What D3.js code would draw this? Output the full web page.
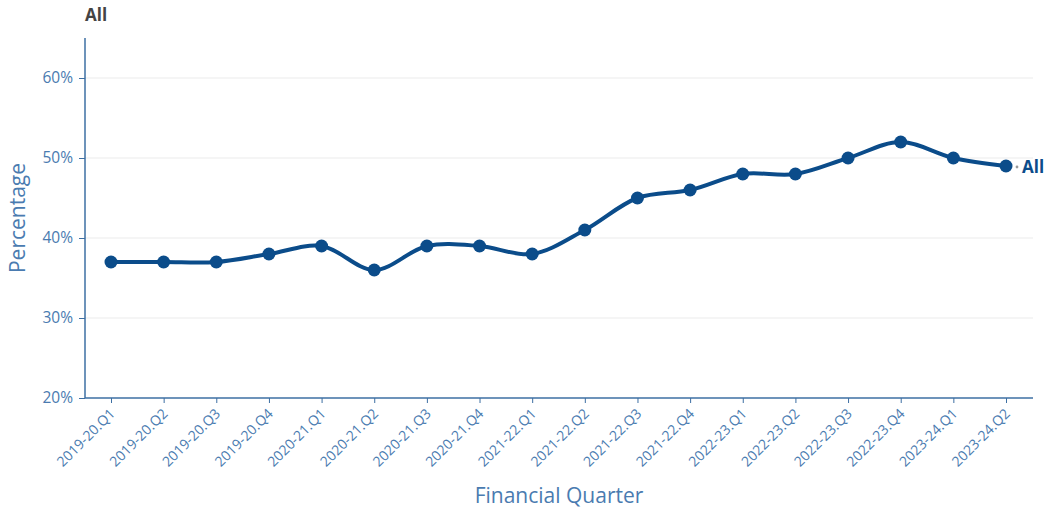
<!DOCTYPE html>
<html>
<head>
<meta charset="utf-8">
<script src="https://cdn.jsdelivr.net/npm/d3@7"></script>
<style>
  body { margin: 0; background: #fff; font-family: "Open Sans", sans-serif; }
</style>
</head>
<body>
<svg id="chart" width="1047" height="511"></svg>
<script>
/** Categories along the x axis */
var quarters = ['2019-20.Q1', '2019-20.Q2', '2019-20.Q3', '2019-20.Q4',
    '2020-21.Q1', '2020-21.Q2', '2020-21.Q3', '2020-21.Q4',
    '2021-22.Q1', '2021-22.Q2', '2021-22.Q3', '2021-22.Q4',
    '2022-23.Q1', '2022-23.Q2', '2022-23.Q3', '2022-23.Q4',
    '2023-24.Q1', '2023-24.Q2'];

/** Percentage values for the "All" series */
var allValues = [37, 37, 37, 38, 39, 36, 39, 39, 38, 41, 45, 46, 48, 48, 50, 52, 50, 49];

/** Y ticks */
var yTicks = [20, 30, 40, 50, 60];

var seriesName = 'All';

var margin = {left: 85, right: 14, top: 38, bottom: 113},
    width = 1047 - margin.left - margin.right,
    height = 511 - margin.top - margin.bottom;

var lineColor = '#0b4c8a',
    axisColor = '#3d6fa3',
    tickTextColor = '#4a7bb0';

var svg = d3.select('#chart');
var g = svg.append('g')
    .attr('transform', 'translate(' + margin.left + ',' + margin.top + ')');

// Scales
var xScale = d3.scalePoint()
    .domain(quarters)
    .range([26, width - 27]);

var yScale = d3.scaleLinear()
    .domain([20, 65])
    .range([height, 0]);

// Grid lines
g.append('g')
    .selectAll('line')
    .data(yTicks.slice(1))
    .enter()
    .append('line')
    .attr('x1', 0)
    .attr('x2', width)
    .attr('y1', function(d) { return yScale(d); })
    .attr('y2', function(d) { return yScale(d); })
    .attr('stroke', '#ebebeb')
    .attr('stroke-width', 1);

// Y axis
var yAxis = g.append('g')
    .call(d3.axisLeft(yScale)
        .tickValues(yTicks)
        .tickSize(6)
        .tickPadding(6)
        .tickFormat(function(d) { return d + '%'; }));
yAxis.select('.domain').attr('stroke', axisColor).attr('stroke-width', 1.5)
    .attr('d', 'M0,0V' + height);
yAxis.selectAll('.tick line').attr('stroke', axisColor);
yAxis.selectAll('.tick text')
    .attr('fill', tickTextColor)
    .style('font-family', '"Open Sans", sans-serif')
    .style('font-size', '15.5px');

// X axis
var xAxis = g.append('g')
    .attr('transform', 'translate(0,' + height + ')')
    .call(d3.axisBottom(xScale).tickSize(5).tickPadding(4));
xAxis.select('.domain').attr('stroke', axisColor).attr('stroke-width', 1.5)
    .attr('d', 'M0,0H' + width);
xAxis.selectAll('.tick line').attr('stroke', axisColor);
xAxis.selectAll('.tick text')
    .attr('fill', tickTextColor)
    .style('font-family', '"Open Sans", sans-serif')
    .style('font-size', '14px')
    .attr('text-anchor', 'end')
    .attr('x', 0)
    .attr('y', 0)
    .attr('dy', '0.35em')
    .attr('transform', 'translate(1,13) rotate(-45)');

// Axis titles
svg.append('text')
    .attr('x', margin.left + width / 2)
    .attr('y', 503)
    .attr('text-anchor', 'middle')
    .attr('fill', tickTextColor)
    .style('font-size', '21px')
    .text('Financial Quarter');

svg.append('text')
    .attr('transform', 'translate(25,' + (margin.top + height / 2) + ') rotate(-90)')
    .attr('text-anchor', 'middle')
    .attr('fill', tickTextColor)
    .style('font-size', '21px')
    .text('Percentage');

// Chart title
svg.append('text')
    .attr('x', 85)
    .attr('y', 21)
    .attr('fill', '#444')
    .style('font-size', '17px')
    .style('font-weight', 'bold')
    .text(seriesName);

// Line
var line = d3.line()
    .x(function(d, i) { return xScale(quarters[i]); })
    .y(function(d) { return yScale(d); })
    .curve(d3.curveCatmullRom.alpha(0.5));

g.append('path')
    .datum(allValues)
    .attr('fill', 'none')
    .attr('stroke', lineColor)
    .attr('stroke-width', 4)
    .attr('d', line);

g.selectAll('circle.pt')
    .data(allValues)
    .enter()
    .append('circle')
    .attr('class', 'pt')
    .attr('cx', function(d, i) { return xScale(quarters[i]); })
    .attr('cy', function(d) { return yScale(d); })
    .attr('r', 6.5)
    .attr('fill', lineColor);

// End label
var lastX = xScale(quarters[quarters.length - 1]),
    lastY = yScale(allValues[allValues.length - 1]);

g.append('circle')
    .attr('cx', lastX + 11)
    .attr('cy', lastY + 1)
    .attr('r', 1.4)
    .attr('fill', '#999');

g.append('text')
    .attr('x', lastX + 16)
    .attr('y', lastY + 1)
    .attr('dy', '0.35em')
    .attr('fill', lineColor)
    .style('font-size', '17px')
    .style('font-weight', 'bold')
    .text(seriesName);
</script>
</body>
</html>
